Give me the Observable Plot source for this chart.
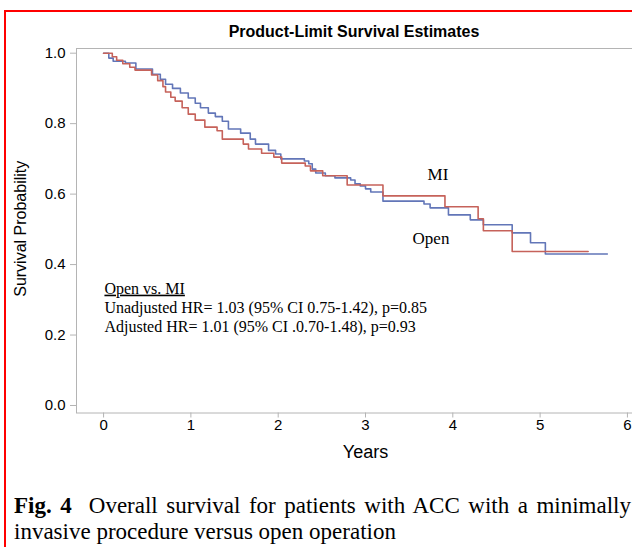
<!DOCTYPE html>
<html><head><meta charset="utf-8">
<script src="https://cdn.jsdelivr.net/npm/d3@7"></script>
<script src="https://cdn.jsdelivr.net/npm/@observablehq/plot@0.6"></script>
<style>
html,body{margin:0;padding:0;background:#fff;overflow:hidden;width:632px;height:547px;}
#wrap{position:relative;width:632px;height:547px;overflow:hidden;}
#border{position:absolute;left:4px;top:10px;width:700px;height:600px;border:2.5px solid #ff0000;box-sizing:border-box;}
#title{position:absolute;left:154px;width:400px;top:23px;text-align:center;font:bold 16px "Liberation Sans",Arial,sans-serif;line-height:18px;color:#000;}
#chart{position:absolute;left:0;top:0;width:680px;}
#chart svg{max-width:none !important;}
#caption{position:absolute;left:14px;top:493px;width:617px;font:23px "Liberation Serif","Times New Roman",serif;line-height:26px;color:#000;}
#caption .l1{text-align:justify;text-align-last:justify;}
</style></head>
<body><div id="wrap">
<div id="chart"></div>
<div id="border"></div>
<div id="title">Product-Limit Survival Estimates</div>
<div id="caption"><div class="l1"><b>Fig. 4</b>&nbsp; Overall survival for patients with ACC with a minimally</div><div>invasive procedure versus open operation</div></div>
</div>
<script>
// MI (minimally invasive) Kaplan-Meier step points
const miTime = [0, 0.10, 0.15, 0.22, 0.30, 0.36, 0.55, 0.62, 0.68, 0.71, 0.77, 0.82, 0.90, 0.97, 1.05, 1.16, 1.30, 1.36, 1.60, 1.66, 1.81, 1.95, 2.04, 2.31, 2.37, 2.51, 2.79, 3.20, 3.91, 4.29, 4.35, 4.68, 5.55];
const miSurv = [1.0, 0.99, 0.98, 0.97, 0.96, 0.952, 0.938, 0.922, 0.905, 0.89, 0.875, 0.864, 0.845, 0.827, 0.81, 0.79, 0.78, 0.756, 0.742, 0.728, 0.716, 0.705, 0.688, 0.68, 0.666, 0.652, 0.626, 0.595, 0.564, 0.53, 0.496, 0.437, 0.437];
// Open operation step points
const openTime = [0, 0.06, 0.11, 0.25, 0.37, 0.56, 0.65, 0.71, 0.79, 0.88, 0.97, 1.05, 1.11, 1.20, 1.28, 1.36, 1.43, 1.57, 1.68, 1.74, 1.89, 1.97, 2.03, 2.30, 2.35, 2.39, 2.43, 2.54, 2.65, 2.83, 2.88, 2.94, 3.00, 3.06, 3.20, 3.67, 3.74, 3.95, 4.20, 4.35, 4.68, 4.89, 5.06, 5.77];
const openSurv = [1.0, 0.986, 0.977, 0.972, 0.955, 0.94, 0.926, 0.912, 0.90, 0.887, 0.873, 0.858, 0.845, 0.83, 0.82, 0.807, 0.785, 0.773, 0.756, 0.742, 0.724, 0.714, 0.70, 0.694, 0.686, 0.671, 0.66, 0.652, 0.646, 0.64, 0.629, 0.623, 0.615, 0.606, 0.58, 0.572, 0.561, 0.541, 0.527, 0.513, 0.49, 0.462, 0.43, 0.43];
const xTicks = [0, 1, 2, 3, 4, 5, 6];
const yTicks = [0, 0.2, 0.4, 0.6, 0.8, 1.0];
const statLines = ["Open vs. MI", "Unadjusted HR= 1.03 (95% CI 0.75-1.42), p=0.85", "Adjusted HR= 1.01 (95% CI .0.70-1.48), p=0.93"];
const groupLabels = ["MI", "Open"];

const mi = miTime.map((t, i) => ({t, s: miSurv[i]}));
const open = openTime.map((t, i) => ({t, s: openSurv[i]}));
const stats = statLines.map((text, i) => ({text, i}));

const red = "#c6625a", blue = "#6276b8", gray = "#b4b4b4";
const serif = "Liberation Serif, Times New Roman, serif";

const chart = Plot.plot({
  width: 680, height: 470,
  marginLeft: 76, marginRight: 26, marginTop: 48, marginBottom: 57.5,
  x: {domain: [-0.31, 6.31]},
  y: {domain: [-0.0213, 1.0133]},
  style: {fontFamily: "Liberation Sans, Arial, sans-serif", fontSize: "14px", color: "#000", background: "transparent", maxWidth: "none"},
  marks: [
    Plot.frame({stroke: gray}),
    Plot.axisX({ticks: xTicks, tickFormat: d => String(d), tickSize: 5, tickPadding: 1, stroke: gray, fill: "#000", label: null, fontSize: 15}),
    Plot.axisY({ticks: yTicks, tickFormat: d3.format(".1f"), tickSize: 6, tickPadding: 5, stroke: gray, fill: "#000", label: null, fontSize: 15}),
    Plot.text(["Years"], {frameAnchor: "bottom", dy: 45, fontSize: 18, fill: "#000"}),
    Plot.text(["Survival Probability"], {frameAnchor: "left", textAnchor: "middle", dx: -56, dy: -2, rotate: -90, fontSize: 16, fill: "#000"}),
    Plot.line(open, {x: "t", y: "s", curve: "step-after", stroke: blue, strokeWidth: 1.6}),
    Plot.line(mi, {x: "t", y: "s", curve: "step-after", stroke: red, strokeWidth: 1.6}),
    Plot.text(stats, {x: 0.01, y: d => 0.332 - d.i * 0.054, text: "text", textAnchor: "start", fontFamily: serif, fontSize: 16, fill: "#000"}),
    Plot.text(groupLabels, {x: [3.83, 3.75], y: [0.656, 0.474], text: d => d, fontFamily: serif, fontSize: 17, fill: "#000"})
  ]
});
chart.querySelectorAll("text").forEach(t => {
  if (t.textContent === "Open vs. MI") t.setAttribute("text-decoration", "underline");
});
document.getElementById("chart").appendChild(chart);
</script>
</body></html>
